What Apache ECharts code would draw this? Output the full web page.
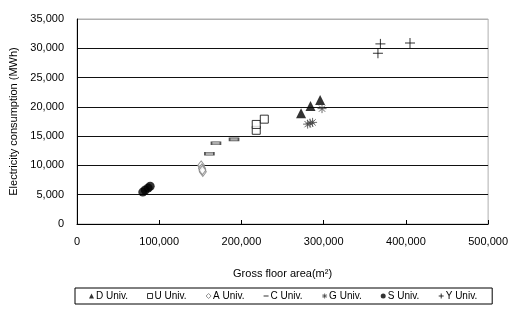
<!DOCTYPE html>
<html><head><meta charset="utf-8">
<script src="https://cdn.jsdelivr.net/npm/echarts@6/dist/echarts.min.js"></script>
<style>html,body{margin:0;padding:0;background:#fff}#c{width:511px;height:320px}</style>
</head><body><div id="c"></div>
<script>
const seriesNames = ['D Univ.', 'U Univ.', 'A Univ.', 'C Univ.', 'G Univ.', 'S Univ.', 'Y Univ.'];
const xTicks = [0, 100000, 200000, 300000, 400000, 500000];
const yTicks = [0, 5000, 10000, 15000, 20000, 25000, 30000, 35000];
const dArea = [272500, 284000, 295700];
const dElec = [18900, 20150, 21170];
const uArea = [218000, 218000, 227800];
const uElec = [16000, 17000, 17900];
const aArea = [151000, 152000, 153000, 152500];
const aElec = [10000, 9500, 8900, 9200];
const cArea = [161000, 169000, 191000];
const cElec = [12000, 13800, 14450];
const gArea = [280500, 286500, 298000, 283500];
const gElec = [17050, 17350, 19700, 17200];
const sArea = [80000, 83000, 86500, 89000];
const sElec = [5450, 5800, 6150, 6450];
const yArea = [366000, 369000, 405000];
const yElec = [29150, 30750, 30900];

const pairs = (xs, ys) => xs.map((x, i) => [x, ys[i]]);
const FONT = 'Liberation Sans';
const fmt = v => v.toLocaleString('en-US');

const ASTER = 'path://M5,0L5,10M0,5L10,5M1.5,1.5L8.5,8.5M8.5,1.5L1.5,8.5';
const PLUS = 'path://M5,0L5,10M0,5L10,5';
const styles = [
  {symbol: 'triangle', symbolSize: 10, itemStyle: {color: '#000'}},
  {symbol: 'rect', symbolSize: 8, itemStyle: {color: '#fff', borderColor: '#000', borderWidth: 1}},
  {symbol: 'diamond', symbolSize: [7, 9], itemStyle: {color: '#fff', borderColor: '#777', borderWidth: 1}},
  {symbol: 'rect', symbolSize: [9, 3], itemStyle: {color: '#999', borderColor: '#333', borderWidth: 1}},
  {symbol: ASTER, symbolSize: 9, itemStyle: {color: 'transparent', borderColor: '#444', borderWidth: 1}},
  {symbol: 'circle', symbolSize: 9, itemStyle: {color: '#000'}},
  {symbol: PLUS, symbolSize: 10, itemStyle: {color: 'transparent', borderColor: '#000', borderWidth: 1}}
];
const legendIcons = [
  {icon: 'triangle', itemStyle: {color: '#000', borderWidth: 0}},
  {icon: 'rect', itemStyle: {color: '#fff', borderColor: '#000', borderWidth: 1}},
  {icon: 'diamond', itemStyle: {color: '#fff', borderColor: '#777', borderWidth: 1}},
  {icon: 'path://M0,4L10,4L10,6L0,6Z', itemStyle: {color: '#000', borderWidth: 0}},
  {icon: ASTER, itemStyle: {color: 'transparent', borderColor: '#444', borderWidth: 1}},
  {icon: 'circle', itemStyle: {color: '#000', borderWidth: 0}},
  {icon: PLUS, itemStyle: {color: 'transparent', borderColor: '#000', borderWidth: 1}}
];
const dataSets = [pairs(dArea, dElec), pairs(uArea, uElec), pairs(aArea, aElec), pairs(cArea, cElec), pairs(gArea, gElec), pairs(sArea, sElec), pairs(yArea, yElec)];

const chart = echarts.init(document.getElementById('c'));
chart.setOption({
  animation: false,
  textStyle: {fontFamily: FONT},
  grid: {left: 76, right: 19, top: 19, bottom: 96, show: true, borderColor: '#b0b0b0', borderWidth: 1, backgroundColor: 'transparent'},
  xAxis: {
    type: 'value', min: xTicks[0], max: xTicks[xTicks.length - 1], interval: 100000,
    name: 'Gross floor area(m²)', nameLocation: 'middle', nameGap: 44,
    nameTextStyle: {fontFamily: FONT, fontSize: 11, color: '#000'},
    axisLine: {show: true, lineStyle: {color: '#000', width: 1}},
    axisTick: {show: true, inside: true, length: 4, lineStyle: {color: '#000'}},
    axisLabel: {fontFamily: FONT, fontSize: 11, color: '#000', margin: 12, formatter: fmt},
    splitLine: {show: false}
  },
  yAxis: {
    type: 'value', min: yTicks[0], max: yTicks[yTicks.length - 1], interval: 5000,
    name: 'Electricity consumption (MWh)', nameLocation: 'middle', nameGap: 58,
    nameTextStyle: {fontFamily: FONT, fontSize: 11, color: '#000'},
    axisLine: {show: true, lineStyle: {color: '#000', width: 1}},
    axisTick: {show: false},
    axisLabel: {fontFamily: FONT, fontSize: 11, color: '#000', margin: 13, formatter: fmt},
    splitLine: {show: true, lineStyle: {color: ['#000', '#111', '#111', '#111', '#111', '#111', '#111', '#b0b0b0'], width: 1}}
  },
  legend: {
    data: seriesNames.map((n, i) => Object.assign({name: n}, legendIcons[i])),
    left: 75, top: 288,
    padding: [3, 15, 3, 14], itemGap: 19, itemWidth: 5, itemHeight: 5,
    borderColor: '#000', borderWidth: 1,
    textStyle: {fontFamily: FONT, fontSize: 10, color: '#000', padding: [0, 0, 0, -3]}
  },
  series: seriesNames.map((n, i) => Object.assign({
    name: n, type: 'scatter', data: dataSets[i]
  }, styles[i]))
});
</script></body></html>
